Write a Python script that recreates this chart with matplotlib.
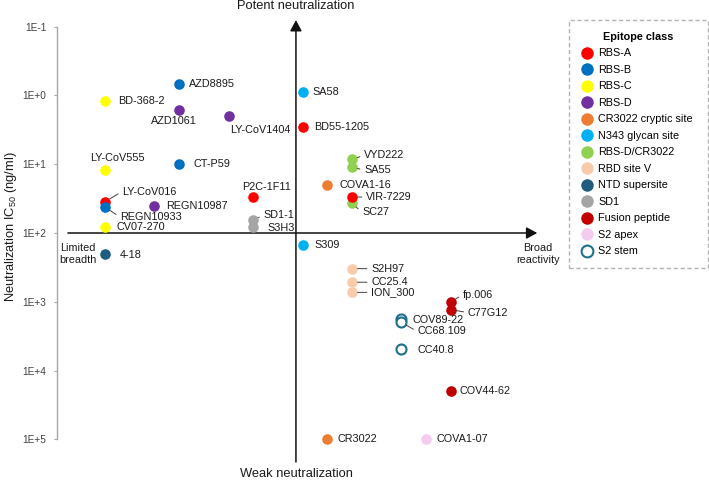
import matplotlib
matplotlib.use("Agg")
import matplotlib.pyplot as plt
from matplotlib.lines import Line2D
from matplotlib.ticker import NullLocator

plt.rcParams['font.family'] = ['Liberation Sans', 'DejaVu Sans']
plt.rcParams['mathtext.fontset'] = 'custom'
plt.rcParams['mathtext.rm'] = 'Liberation Sans'

# --- DATA ---
antibodies = ["BD-368-2", "AZD8895", "AZD1061", "LY-CoV1404", "SA58", "BD55-1205",
              "LY-CoV555", "CT-P59", "LY-CoV016", "REGN10933", "REGN10987", "P2C-1F11",
              "SD1-1", "S3H3", "CV07-270", "COVA1-16", "VYD222", "SA55", "SC27", "VIR-7229",
              "S309", "4-18", "S2H97", "CC25.4", "ION_300", "fp.006", "C77G12",
              "COV89-22", "CC68.109", "CC40.8", "COV44-62", "CR3022", "COVA1-07"]
epitopes = ["RBS-C", "RBS-B", "RBS-D", "RBS-D", "N343 glycan site", "RBS-A",
            "RBS-C", "RBS-B", "RBS-A", "RBS-B", "RBS-D", "RBS-A",
            "SD1", "SD1", "RBS-C", "CR3022 cryptic site", "RBS-D/CR3022", "RBS-D/CR3022",
            "RBS-D/CR3022", "RBS-A",
            "N343 glycan site", "NTD supersite", "RBD site V", "RBD site V", "RBD site V",
            "Fusion peptide", "Fusion peptide",
            "S2 stem", "S2 stem", "S2 stem", "Fusion peptide", "CR3022 cryptic site", "S2 apex"]
breadth = [1, 4, 4, 6, 9, 9,
           1, 4, 1, 1, 3, 7,
           7, 7, 1, 10, 11, 11, 11, 11,
           9, 1, 11, 11, 11, 15, 15,
           13, 13, 13, 15, 10, 14]
ic50 = [1.2, 0.68, 1.6, 2.0, 0.9, 2.9,
        12, 10, 35, 42, 41, 30,
        65, 81, 81, 20, 8.5, 11, 37, 30,
        150, 200, 330, 520, 730, 1000, 1300,
        1800, 2000, 4800, 20000, 1e5, 1e5]

classes = ["RBS-A", "RBS-B", "RBS-C", "RBS-D", "CR3022 cryptic site", "N343 glycan site",
           "RBS-D/CR3022", "RBD site V", "NTD supersite", "SD1", "Fusion peptide",
           "S2 apex", "S2 stem"]
y_ticks = [1e-1, 1e0, 1e1, 1e2, 1e3, 1e4, 1e5]
y_tick_labels = ["1E-1", "1E+0", "1E+1", "1E+2", "1E+3", "1E+4", "1E+5"]

# --- STYLE ---
colors = {"RBS-A": "#FF0000", "RBS-B": "#0070C0", "RBS-C": "#FFFF00", "RBS-D": "#7030A0",
          "CR3022 cryptic site": "#ED7D31", "N343 glycan site": "#00B0F0",
          "RBS-D/CR3022": "#92D050", "RBD site V": "#F8CBAD", "NTD supersite": "#1F5C7E",
          "SD1": "#A5A5A5", "Fusion peptide": "#C00000", "S2 apex": "#F4CCF0",
          "S2 stem": "#1F6E8C"}
open_classes = ["S2 stem"]

# label placement: (dx px, dy px downward, ha, leader line)
label_pos = {
    "BD-368-2": (13, 0, "left", False), "AZD8895": (10, 0, "left", False),
    "AZD1061": (-5, 11, "center", False), "LY-CoV1404": (32, 14, "center", False),
    "SA58": (10, 0, "left", False), "BD55-1205": (12, 0, "left", False),
    "LY-CoV555": (12, -12, "center", False), "CT-P59": (14, 0, "left", False),
    "LY-CoV016": (17, -10, "left", True), "REGN10933": (15, 10, "left", True),
    "REGN10987": (12, 0, "left", False), "P2C-1F11": (13, -10, "center", False),
    "SD1-1": (10, -5, "left", True), "S3H3": (14, 1, "left", False),
    "CV07-270": (12, 0, "left", False), "COVA1-16": (12, 0, "left", False),
    "VYD222": (12, -4, "left", True), "SA55": (12, 3, "left", True),
    "SC27": (10, 9, "left", True), "VIR-7229": (14, 0, "left", True),
    "S309": (12, 0, "left", False), "4-18": (15, 1, "left", False),
    "S2H97": (19, 0, "left", True), "CC25.4": (19, 0, "left", True),
    "ION_300": (19, 0, "left", True), "fp.006": (12, -7, "left", True),
    "C77G12": (17, 3, "left", True), "COV89-22": (11, 1, "left", False),
    "CC68.109": (16, 9, "left", True), "CC40.8": (16, 1, "left", False),
    "COV44-62": (9, 0, "left", False), "CR3022": (10, 0, "left", False),
    "COVA1-07": (10, 0, "left", False),
}

fig = plt.figure(figsize=(7.09, 4.82), dpi=100)
ax = fig.add_axes([57 / 709, 1 - 439.3 / 482, 503 / 709, 412.6 / 482])

# --- POINTS ---
for name, ep, b, v in zip(antibodies, epitopes, breadth, ic50):
    if ep in open_classes:
        ax.scatter(b, v, s=52, facecolor="white", edgecolor=colors[ep], linewidth=1.5,
                   zorder=3, clip_on=False)
    else:
        ax.scatter(b, v, s=58, color=colors[ep], linewidth=0, zorder=3, clip_on=False)

for name, b, v in zip(antibodies, breadth, ic50):
    dx, dy, ha, leader = label_pos[name]
    kw = {}
    if leader:
        kw["arrowprops"] = dict(arrowstyle="-", color="#404040", lw=0.7,
                                shrinkA=1, shrinkB=4, relpos=(0, 0.5))
    ax.annotate(name, xy=(b, v), xytext=(dx, -dy), textcoords="offset pixels",
                ha=ha, va="center", fontsize=7.8, color="#1a1a1a", zorder=4,
                annotation_clip=False, **kw)

# --- AXES ---
ax.set_yscale("log")
ax.set_xlim(-0.943, 19.42)
ax.set_ylim(1e5, 1e-1)
ax.set_yticks(y_ticks)
ax.set_yticklabels(y_tick_labels, fontsize=7.2, color="#404040")
ax.yaxis.set_minor_locator(NullLocator())
ax.set_xticks([])
ax.tick_params(axis="y", length=2.5, color="#A6A6A6", pad=5)
for s in ["top", "right", "bottom"]:
    ax.spines[s].set_visible(False)
ax.spines["left"].set_color("#A6A6A6")
ax.spines["left"].set_linewidth(1)
ax.patch.set_alpha(0)

# quadrant arrows
xtr = ax.get_xaxis_transform()
ax.annotate("", xy=(8.73, 1.016), xytext=(8.73, -0.055), xycoords=xtr, textcoords=xtr,
            arrowprops=dict(arrowstyle="-|>,head_length=0.65,head_width=0.35", color="#111111",
                            lw=1.1, shrinkA=0, shrinkB=0), annotation_clip=False, zorder=1)
ax.annotate("", xy=(18.5, 100), xytext=(-0.5, 100),
            arrowprops=dict(arrowstyle="-|>,head_length=0.65,head_width=0.35", color="#111111",
                            lw=1.1, shrinkA=0, shrinkB=0), annotation_clip=False, zorder=1)

fig.text(296 / 709, 1 - 6 / 482, "Potent neutralization", ha="center", va="center", fontsize=9.3, color="#1a1a1a")
fig.text(296 / 709, 1 - 474 / 482, "Weak neutralization", ha="center", va="center", fontsize=9.3, color="#1a1a1a")
fig.text(11 / 709, 1 - 227 / 482, "Neutralization IC$_{\\mathrm{50}}$ (ng/ml)", rotation=90,
         ha="center", va="center", fontsize=9.3, color="#1a1a1a")
fig.text(78 / 709, 1 - 254 / 482, "Limited\nbreadth", ha="center", va="center", fontsize=7.8, color="#1a1a1a")
fig.text(538 / 709, 1 - 254 / 482, "Broad\nreactivity", ha="center", va="center", fontsize=7.8, color="#1a1a1a")

# --- LEGEND ---
handles = []
for c in classes:
    if c in open_classes:
        h = Line2D([], [], marker="o", linestyle="", markersize=8.5, markerfacecolor="white",
                   markeredgecolor=colors[c], markeredgewidth=1.5, label=c)
    else:
        h = Line2D([], [], marker="o", linestyle="", markersize=9, color=colors[c],
                   markeredgewidth=0, label=c)
    handles.append(h)
leg = fig.legend(handles=handles, loc="upper left",
                 bbox_to_anchor=(569 / 709, 1 - 269 / 482, 139 / 709, 249 / 482),
                 mode="expand", borderaxespad=0, fontsize=7.8, title="Epitope class",
                 title_fontproperties={"weight": "bold", "size": 7.8},
                 fancybox=False, borderpad=1.1, handlelength=1.15, handletextpad=0.45,
                 labelspacing=0.6, frameon=True)
frame = leg.get_frame()
frame.set_linestyle((0, (3, 2)))
frame.set_edgecolor("#A0A0A0")
frame.set_linewidth(1)

fig.savefig("out.png", dpi=100)
